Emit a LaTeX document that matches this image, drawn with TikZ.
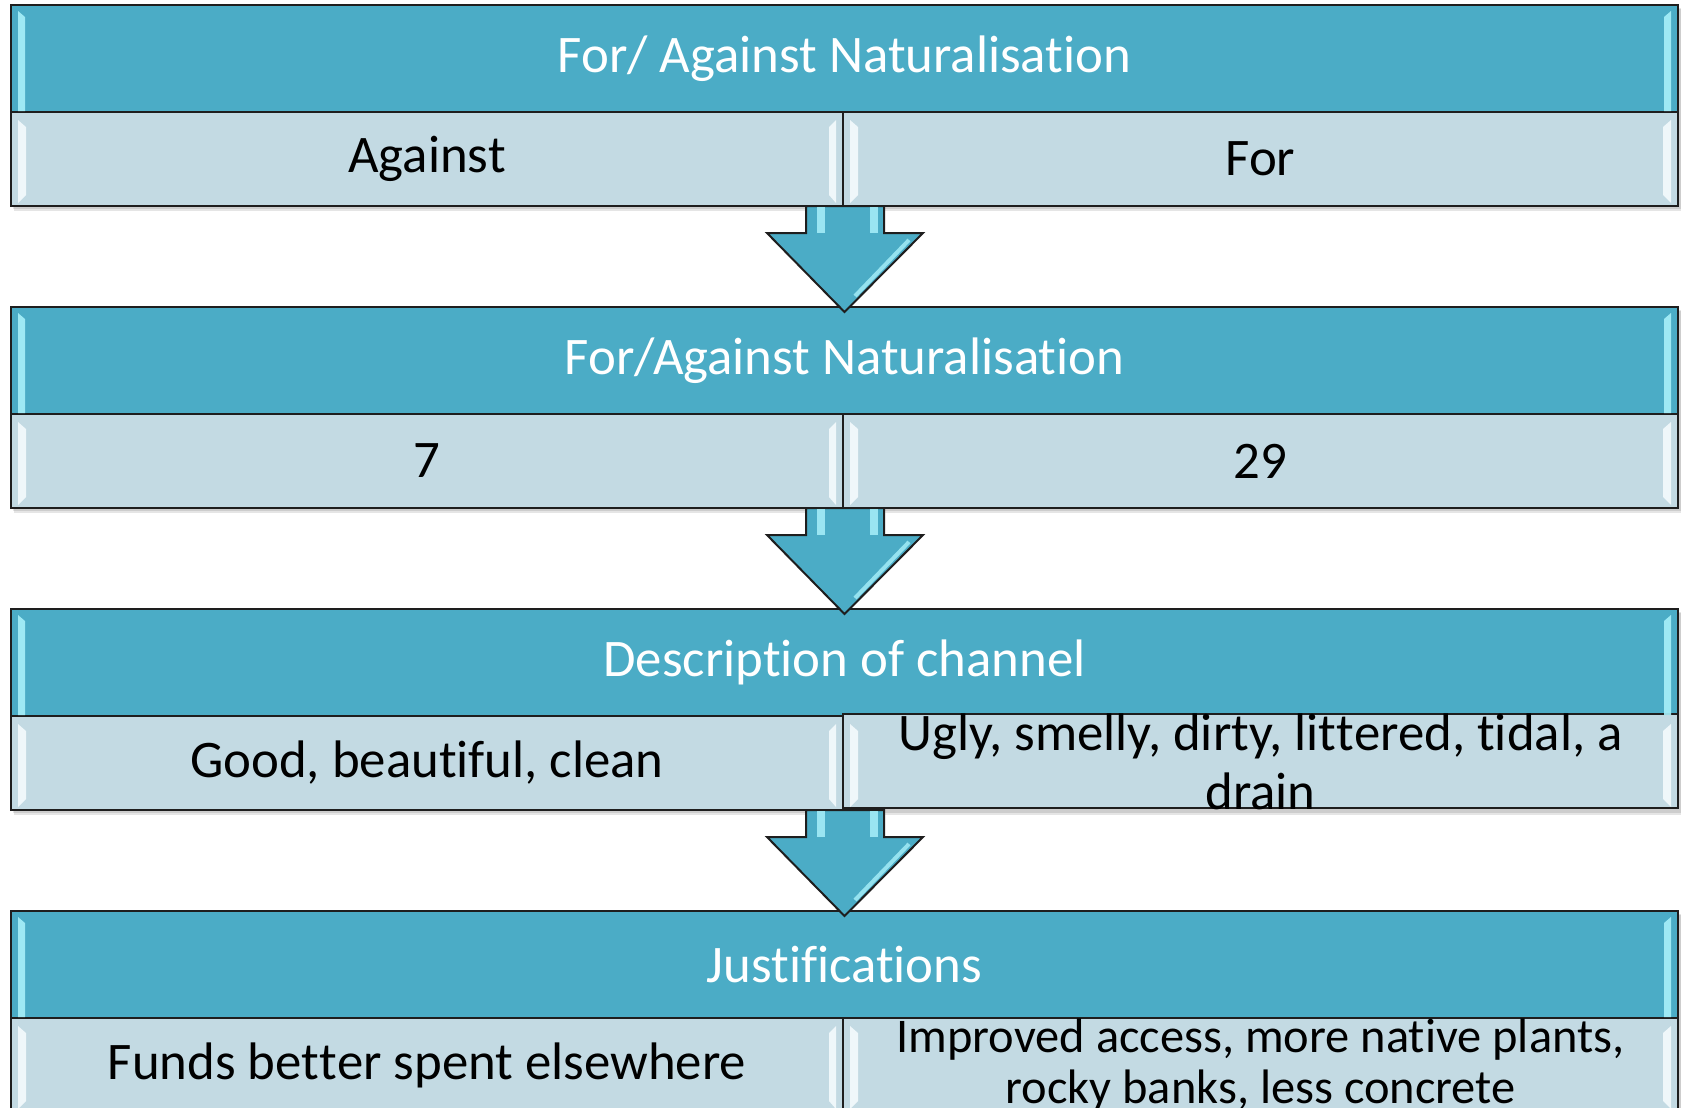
\documentclass[tikz,border=0pt]{standalone}
\usepackage{fontspec}
\setmainfont{Carlito}[Ligatures={CommonOff,ContextualOff,RequiredOff},RawFeature=-calt]
\usetikzlibrary{calc}
\newcommand\nolg{\kern0pt }
\definecolor{hdr}{HTML}{4BACC6}
\definecolor{cellc}{HTML}{C3DAE3}
\definecolor{hdrhi}{HTML}{A8F0FA}
\definecolor{cellhi}{HTML}{F4FBFD}
\definecolor{edge}{HTML}{1E1E1E}
\begin{document}
\begin{tikzpicture}[x=0.5pt,y=-0.5pt,
  txt/.style={font=\fontsize{26.4}{29.5}\selectfont},
  smalltxt/.style={font=\fontsize{24.2}{25.2}\selectfont},
  hdrbox/.style={txt,draw=edge,line width=1pt,fill=hdr,text=white,
    minimum width=833.5pt,minimum height=53.5pt,inner sep=0pt,outer sep=0pt,anchor=north west},
  leftcell/.style={txt,draw=edge,line width=1pt,fill=cellc,text=black,align=center,
    minimum width=416pt,minimum height=47pt,inner sep=0pt,outer sep=0pt,anchor=north west},
  rightcell/.style={txt,draw=edge,line width=1pt,fill=cellc,text=black,align=center,
    minimum width=417.5pt,minimum height=47pt,inner sep=0pt,outer sep=0pt,anchor=north west},
  shade/.style={fill=black,opacity=0.10,draw=none},
  hdrgleam/.style={fill=hdrhi,draw=none,opacity=0.9},
  cellgleam/.style={fill=cellhi,draw=none,opacity=0.9},
  blockarrow/.style={draw=edge,line width=1pt,fill=hdr,line join=miter}]
\useasboundingbox (0,0) rectangle (1681,1108);
\fill[white] (0,0) rectangle (1681,1108);

% shadows
\foreach \t in {5,307,609,911}{
  \fill[shade] (14,\t+4) rectangle (1682,\t+206);
  \fill[shade] (13,\t+3) rectangle (1681,\t+204);
}

% block 1
\node[hdrbox] (h1) at (11,5) {For/ Against Naturalisat\nolg ion};
\node[leftcell] (l1) at (h1.south west) {Against};
\node[rightcell] (r1) at (l1.north east) {For};
% block 2
\node[hdrbox] (h2) at (11,307) {For/Against Naturalisat\nolg ion};
\node[leftcell] (l2) at (h2.south west) {7};
\node[rightcell] (r2) at (l2.north east) {29};
% block 3
\node[hdrbox] (h3) at (11,609) {Descript\nolg ion of channel};
\node[leftcell] (l3) at (h3.south west) {Good, beaut\nolg if\nolg ul, clean};
\node[rightcell,yshift=1pt] (r3) at (l3.north east) {};
\node[txt,align=center,inner sep=0pt] (r3t) at ($(r3.center)+(0,1)$) {Ugly, smelly, dirty, lit\nolg t\nolg ered, t\nolg idal, a\\drain};
% block 4
\node[hdrbox] (h4) at (11,911) {Just\nolg if\nolg icat\nolg ions};
\node[leftcell] (l4) at (h4.south west) {Funds bet\nolg t\nolg er spent elsewhere};
\node[rightcell,smalltxt] (r4) at (l4.north east) {Improved access, more nat\nolg ive plants,\\rocky banks, less concrete};

% bevel gleams
\foreach \t in {5,307,609,911}{
  \fill[hdrgleam] (18,\t+6) -- (25,\t+12) -- (25,\t+106) -- (18,\t+106) -- cycle;
  \fill[hdrgleam] (1671,\t+6) -- (1664,\t+12) -- (1664,\t+106) -- (1671,\t+106) -- cycle;
  \fill[cellgleam] (18,\t+115) -- (26,\t+122) -- (26,\t+190) -- (18,\t+198) -- cycle;
  \fill[cellgleam] (836,\t+115) -- (829,\t+122) -- (829,\t+190) -- (836,\t+198) -- cycle;
  \fill[cellgleam] (850,\t+115) -- (858,\t+122) -- (858,\t+190) -- (850,\t+198) -- cycle;
  \fill[cellgleam] (1671,\t+115) -- (1663,\t+122) -- (1663,\t+190) -- (1671,\t+198) -- cycle;
}

% block arrows between the blocks
\foreach \a/\b in {l1/h2,l2/h3,l3/h4}{
  \draw[blockarrow] ($(\a.south east)+(-37,0)$) -- ++(78,0) -- ++(0,27) -- ++(39,0)
     -- ($(\b.north west)!0.5!(\b.north east)+(0,5)$) -- ($(\a.south east)+(-76,27)$)
     -- ++(39,0) -- cycle;
  \fill[hdrhi,opacity=0.85] ($(\a.south east)+(-26,1)$) rectangle ++(8,26);
  \fill[hdrhi,opacity=0.85] ($(\a.south east)+(27,1)$) rectangle ++(8,26);
  \draw[hdrhi,line width=2pt,opacity=0.8] ($(\a.south east)+(66,34)$) -- ($(\a.south east)+(12,90)$);
}
\end{tikzpicture}
\end{document}
